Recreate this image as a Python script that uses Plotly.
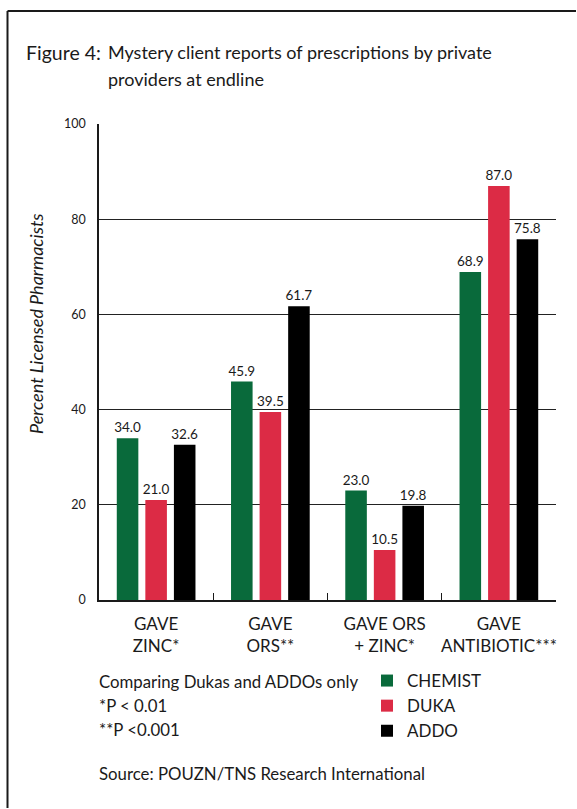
import plotly.graph_objects as go

# Mystery client survey results (percent of licensed pharmacists)
categories = ["GAVE<br>ZINC*", "GAVE<br>ORS**", "GAVE ORS<br>+ ZINC*", "GAVE<br>ANTIBIOTIC***"]
chemist = [34.0, 45.9, 23.0, 68.9]
duka = [21.0, 39.5, 10.5, 87.0]
addo = [32.6, 61.7, 19.8, 75.8]
series_names = ["CHEMIST", "DUKA", "ADDO"]
series_values = [chemist, duka, addo]
series_colors = ["#096a3b", "#dc2b45", "#000000"]
y_ticks = [0, 20, 40, 60, 80, 100]

W, H = 577, 809
ML, MR, MT, MB = 99, 21, 124, 209
FONT = "Lato"


def px_x(x):
    return (x - ML) / (W - ML - MR)


def px_y(y):
    return (H - MB - y) / (H - MT - MB)


fig = go.Figure()
for name, vals, col in zip(series_names, series_values, series_colors):
    fig.add_trace(go.Bar(
        x=categories, y=vals, name=name,
        marker=dict(color=col, line=dict(width=0)),
        text=[f"{v:.1f}" for v in vals],
        textposition="outside",
        constraintext="none",
        textfont=dict(family=FONT, size=13.5, color="#1a1a1a"),
        cliponaxis=False,
    ))

annotations = [
    dict(text="Figure 4:", x=px_x(24), y=px_y(52), font=dict(size=19.5)),
    dict(text="Mystery client reports of prescriptions by private", x=px_x(106), y=px_y(52), font=dict(size=18)),
    dict(text="providers at endline", x=px_x(106), y=px_y(79), font=dict(size=18)),
    dict(text="Comparing Dukas and ADDOs only", x=px_x(97), y=px_y(681), font=dict(size=16.8)),
    dict(text="*P < 0.01", x=px_x(97), y=px_y(705), font=dict(size=16.8)),
    dict(text="**P <0.001", x=px_x(97), y=px_y(729), font=dict(size=16.8)),
    dict(text="Source: POUZN/TNS Research International", x=px_x(97), y=px_y(773), font=dict(size=16.8)),
]
for a in annotations:
    a.update(xref="paper", yref="paper", xanchor="left", yanchor="middle", showarrow=False)
    a["font"].update(family=FONT, color="#1a1a1a")

annotations.append(dict(
    text="<i>Percent Licensed Pharmacists</i>", textangle=-90,
    x=px_x(36), y=px_y(324), xref="paper", yref="paper",
    xanchor="center", yanchor="middle", showarrow=False,
    font=dict(family=FONT, size=18, color="#1a1a1a"),
))

# frame lines along the left and top edges of the page
shapes = [
    dict(type="line", xref="paper", yref="paper", x0=px_x(7.5), x1=px_x(7.5), y0=px_y(11), y1=px_y(808),
         line=dict(color="#1a1a1a", width=2)),
    dict(type="line", xref="paper", yref="paper", x0=px_x(7.5), x1=px_x(576), y0=px_y(11), y1=px_y(11),
         line=dict(color="#1a1a1a", width=2)),
]

fig.update_layout(
    width=W, height=H, autosize=False,
    margin=dict(l=ML, r=MR, t=MT, b=MB, autoexpand=False),
    paper_bgcolor="white", plot_bgcolor="white",
    barmode="group", bargap=0.25, bargroupgap=0.245,
    font=dict(family=FONT, color="#1a1a1a"),
    annotations=annotations, shapes=shapes,
    legend=dict(
        x=px_x(367), y=px_y(663), xanchor="left", yanchor="top",
        font=dict(family=FONT, size=17, color="#1a1a1a"),
        bgcolor="rgba(0,0,0,0)", tracegroupgap=0,
    ),
    xaxis=dict(
        showline=True, linecolor="#1a1a1a", linewidth=1.5,
        ticks="inside", tickson="boundaries", ticklen=7, tickwidth=1.2, tickcolor="#1a1a1a",
        tickfont=dict(family=FONT, size=17, color="#1a1a1a"),
        tickangle=0, ticklabelstandoff=8, automargin=False,
        showgrid=False, fixedrange=True,
    ),
    yaxis=dict(
        range=[0, 100], tickvals=y_ticks,
        showline=True, linecolor="#1a1a1a", linewidth=1.5,
        showgrid=True, gridcolor="#222222", gridwidth=1.4,
        zeroline=False, ticks="", automargin=False,
        tickfont=dict(family=FONT, size=12.5, color="#1a1a1a"),
        ticklabelstandoff=9,
        fixedrange=True,
    ),
)

fig.write_html("out.html", config={"displayModeBar": False})
